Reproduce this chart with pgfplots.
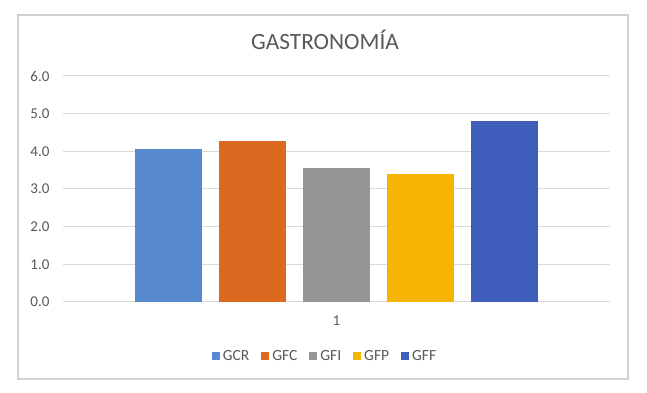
\documentclass[border=0pt]{standalone}
\usepackage{fontspec}
\setmainfont{Carlito}
\usepackage{pgfplots}
\pgfplotsset{compat=1.18}
\definecolor{gcr}{HTML}{5689CD}
\definecolor{gfc}{HTML}{DB691F}
\definecolor{gfi}{HTML}{969696}
\definecolor{gfp}{HTML}{F5B400}
\definecolor{gff}{HTML}{3F5EBB}
\definecolor{gridc}{HTML}{D9D9D9}
\definecolor{framec}{HTML}{D0D0D0}
\definecolor{txt}{HTML}{595959}
\begin{document}
\begin{tikzpicture}
\useasboundingbox (0pt,0pt) rectangle (647pt,393pt);
\draw[color=framec, line width=1.2pt] (18pt,14pt) rectangle (628pt,378pt);
\node[font=\fontsize{23.3}{26}\selectfont, text=txt, anchor=base, inner sep=0pt] at (325pt,343pt) {GASTRONOMÍA};
\begin{axis}[
  at={(63pt,91pt)}, anchor=south west, scale only axis,
  width=547pt, height=226pt,
  ymin=0, ymax=6, xmin=0.5, xmax=1.5,
  ybar=17pt, bar width=67pt,
  ytick={0,1,2,3,4,5,6},
  yticklabel={\pgfmathprintnumber[fixed,fixed zerofill,precision=1]{\tick}},
  xtick={1}, xticklabels={1},
  /pgf/number format/assume math mode=true,
  major tick length=0pt,
  ymajorgrids, grid style={color=gridc, line width=1pt},
  axis line style={draw=none},
  tick label style={font=\fontsize{15}{17}\selectfont, text=txt},
  yticklabel style={xshift=-10pt},
  xticklabel style={yshift=-10pt},
  legend style={draw=none, at={(0.48,-0.239)}, anchor=center, legend columns=-1,
    font=\fontsize{15.5}{17}\selectfont, text=txt,
    nodes={inner xsep=3pt},
    /tikz/every even column/.append style={column sep=9pt}},
  legend image code/.code={\fill[#1] (0pt,-4pt) rectangle (8pt,4pt);},
]
\addplot[fill=gcr, draw=none] coordinates {(1,4.07)};
\addplot[fill=gfc, draw=none] coordinates {(1,4.27)};
\addplot[fill=gfi, draw=none] coordinates {(1,3.55)};
\addplot[fill=gfp, draw=none] coordinates {(1,3.40)};
\addplot[fill=gff, draw=none] coordinates {(1,4.81)};
\legend{GCR,GFC,GFI,GFP,GFF}
\end{axis}
\end{tikzpicture}
\end{document}
